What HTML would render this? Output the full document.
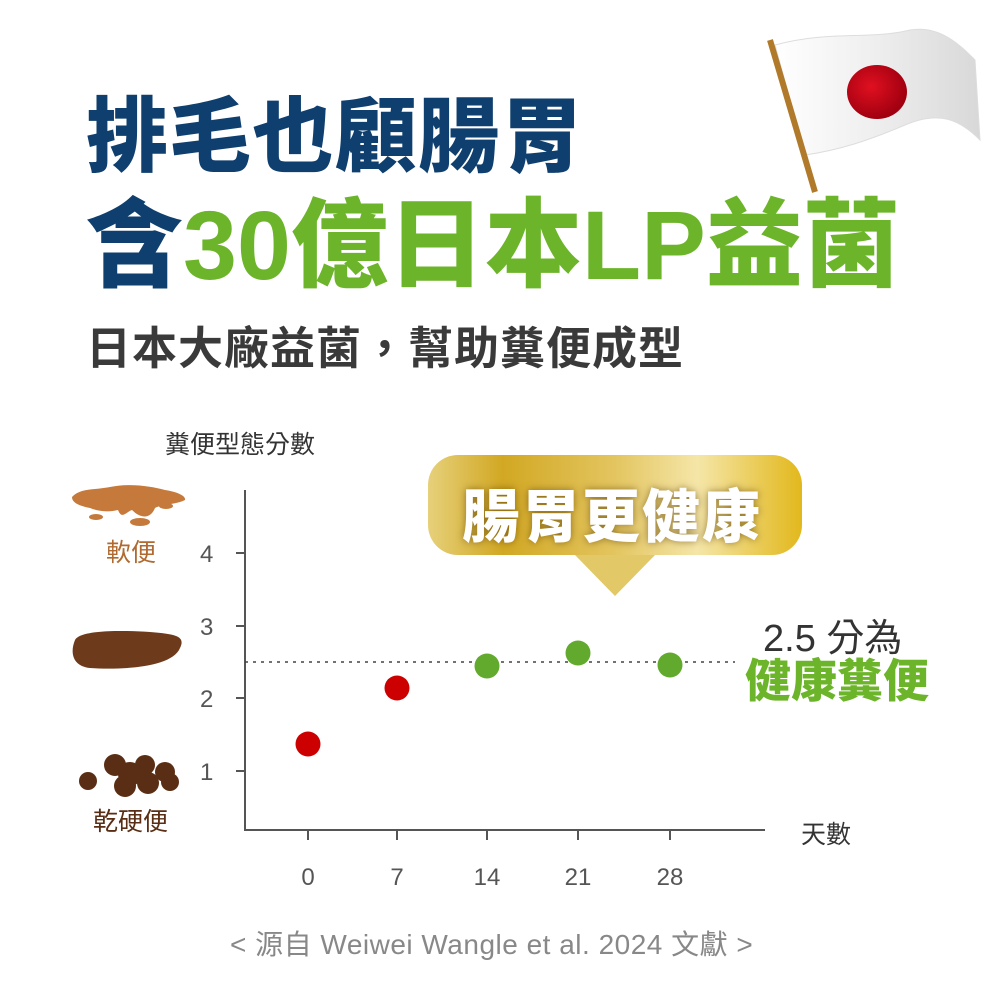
<!DOCTYPE html>
<html><head><meta charset="utf-8"><style>
body{margin:0;width:1000px;height:1000px;background:#fff;position:relative;overflow:hidden;font-family:"Liberation Sans","Noto Sans CJK TC",sans-serif}
.a{position:absolute;white-space:nowrap}
</style></head><body>
<svg class="a" style="left:0;top:0" width="1000" height="1000">
<defs>
<linearGradient id="gold" x1="0" x2="1" y1="0" y2="0">
<stop offset="0" stop-color="#e6d07a"/><stop offset="0.2" stop-color="#d2a823"/><stop offset="0.5" stop-color="#e3c560"/><stop offset="0.72" stop-color="#f5e6a8"/><stop offset="1" stop-color="#e2b81c"/></linearGradient>
<linearGradient id="flag" x1="0" x2="1"><stop offset="0" stop-color="#fff"/><stop offset="0.5" stop-color="#eee"/><stop offset="1" stop-color="#d8d8d8"/></linearGradient>
<radialGradient id="rd" cx="0.4" cy="0.4" r="0.6"><stop offset="0" stop-color="#e01020"/><stop offset="1" stop-color="#a00010"/></radialGradient>
</defs>
<path d="M775 45 C830 30 870 40 910 30 C940 25 960 45 975 60 L980 140 C960 120 940 110 905 125 C870 140 840 150 805 155 Z" fill="url(#flag)" stroke="#ddd"/>
<ellipse cx="877" cy="92" rx="30" ry="27" fill="url(#rd)"/>
<line x1="770" y1="40" x2="815" y2="192" stroke="#b07a2a" stroke-width="6"/>
<rect x="428" y="455" width="374" height="100" rx="30" fill="url(#gold)"/>
<polygon points="575,555 655,555 615,596" fill="#e2c866"/>
<g stroke="#555" stroke-width="2" fill="none">
<path d="M245 490 V830 H765"/>
<path d="M236 553H245M236 626H245M236 698H245M236 771H245"/>
<path d="M308 830v10M397 830v10M487 830v10M578 830v10M670 830v10"/>
</g>
<line x1="245" y1="662" x2="735" y2="662" stroke="#444" stroke-width="1.5" stroke-dasharray="3,5"/>
<circle cx="308" cy="744" r="12.5" fill="#cc0000"/>
<circle cx="397" cy="688" r="12.5" fill="#cc0000"/>
<circle cx="487" cy="666" r="12.5" fill="#62aa2e"/>
<circle cx="578" cy="653" r="12.5" fill="#62aa2e"/>
<circle cx="670" cy="665" r="12.5" fill="#62aa2e"/>
<g fill="#555" font-size="24" font-family="Liberation Sans,sans-serif">
<text x="200" y="562">4</text><text x="200" y="635">3</text><text x="200" y="707">2</text><text x="200" y="780">1</text>
<text x="308" y="885" text-anchor="middle">0</text><text x="397" y="885" text-anchor="middle">7</text><text x="487" y="885" text-anchor="middle">14</text><text x="578" y="885" text-anchor="middle">21</text><text x="670" y="885" text-anchor="middle">28</text>
</g>
<path d="M72 497 C80 488 95 490 110 487 C130 483 150 486 165 490 C178 492 186 496 185 500 C175 505 162 504 155 508 C150 520 140 518 132 510 C126 512 122 520 118 510 C110 512 100 512 90 508 C80 506 72 503 72 497Z" fill="#c57a3c"/>
<ellipse cx="140" cy="522" rx="10" ry="4" fill="#c57a3c"/><ellipse cx="96" cy="517" rx="7" ry="3" fill="#c57a3c"/><ellipse cx="166" cy="506" rx="7" ry="3" fill="#c57a3c"/>
<path d="M75 640 C80 630 120 630 150 632 C175 634 186 636 180 648 C172 668 120 670 90 668 C72 666 70 652 75 640Z" fill="#6e3a1c"/>
<g fill="#5a2e14"><circle cx="88" cy="781" r="9"/><circle cx="115" cy="765" r="11"/><circle cx="130" cy="774" r="12"/><circle cx="145" cy="765" r="10"/><circle cx="125" cy="786" r="11"/><circle cx="148" cy="783" r="11"/><circle cx="165" cy="772" r="10"/><circle cx="170" cy="782" r="9"/></g>
</svg>
<div class="a" style="left:86px;top:70px;font-size:82px;font-weight:900;color:#0e3f6e;letter-spacing:1px">排毛也顧腸胃</div>
<div class="a" style="left:86px;top:166px;font-size:97px;font-weight:900;color:#0e3f6e;letter-spacing:0px">含<span style="color:#6cb52a">30億日本LP益菌</span></div>
<div class="a" style="left:86px;top:312px;font-size:45px;font-weight:700;color:#3a3a3a;letter-spacing:1px">日本大廠益菌，幫助糞便成型</div>
<div class="a" style="left:165px;top:425px;font-size:25px;color:#333">糞便型態分數</div>
<div class="a" style="left:462px;top:470px;font-size:58px;font-weight:900;color:#fff;letter-spacing:2px;text-shadow:0 0 8px rgba(90,60,0,.6)">腸胃更健康</div>
<div class="a" style="left:106px;top:533px;font-size:25px;color:#b06a30">軟便</div>
<div class="a" style="left:93px;top:802px;font-size:25px;color:#5a2e14">乾硬便</div>
<div class="a" style="left:763px;top:607px;font-size:38px;color:#333">2.5 分為</div>
<div class="a" style="left:745px;top:645px;font-size:46px;font-weight:900;color:#6cb52a">健康糞便</div>
<div class="a" style="left:801px;top:815px;font-size:25px;color:#333">天數</div>
<div class="a" style="left:230px;top:923px;font-size:28px;color:#888;letter-spacing:0.5px">&lt; 源自 Weiwei Wangle et al. 2024 文獻 &gt;</div>
</body></html>
